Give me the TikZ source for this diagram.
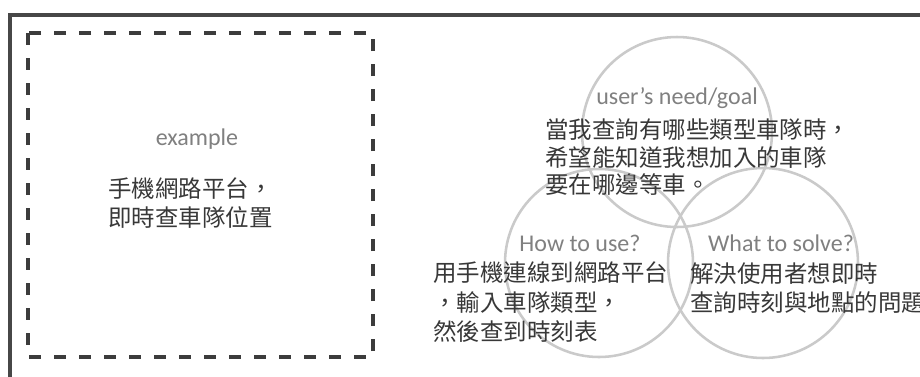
\documentclass[tikz,border=0pt]{standalone}
\usepackage{fontspec}
\setmainfont{Carlito}
\newfontfamily\cjk{Noto Sans CJK TC}
\definecolor{framegray}{HTML}{474747}
\definecolor{dashgray}{HTML}{3C3C3C}
\definecolor{circgray}{HTML}{CACACA}
\definecolor{lblgray}{HTML}{808080}
\definecolor{txtgray}{HTML}{383838}
\begin{document}
\begin{tikzpicture}[x=0.75pt,y=-0.75pt,
  lbl/.style={inner sep=0pt, text=lblgray, font=\fontsize{18}{22}\selectfont},
  cjkblock/.style={inner sep=0pt, align=left, text=txtgray, anchor=west},
  venn/.style={draw=circgray, line width=1.9pt},
  dashbox/.style={draw=dashgray, line width=2.3pt, dash pattern=on 9pt off 9.75pt}]
\useasboundingbox (0,0) rectangle (920,376);
\fill[white] (0,0) rectangle (920,376);
% outer frame (right and bottom edges lie outside the picture)
\draw[framegray, line width=3pt] (9.7,420) -- (9.7,14.7) -- (960,14.7);
% dashed example box
\draw[dashbox] (28,33) rectangle (373,357);
% Venn circles
\draw[venn] (677,132) circle[radius=95];
\draw[venn] (599,263) circle[radius=94];
\draw[venn] (763,263) circle[radius=95];
% labels
\node[lbl] (exlbl) at (197,139) {example};
\node[cjkblock, font=\cjk\fontsize{17.6}{21.75}\selectfont] (extxt) at (108,203.5) {手機網路平台，\\即時查車隊位置};
\node[lbl] (needlbl) at (677,98) {user’s need/goal};
\node[cjkblock, font=\cjk\fontsize{17.6}{20.6}\selectfont] (needtxt) at (545,157.5) {當我查詢有哪些類型車隊時，\\希望能知道我想加入的車隊\\要在哪邊等車。};
\node[lbl] (uselbl) at (580,243) {How to use?};
\node[cjkblock, font=\cjk\fontsize{17.6}{22.1}\selectfont] (usetxt) at (433,302.5) {用手機連線到網路平台\\，輸入車隊類型，\\然後查到時刻表};
\node[lbl] (solvelbl) at (781,243) {What to solve?};
\node[cjkblock, font=\cjk\fontsize{17.6}{22.1}\selectfont] (solvetxt) at (690,288) {解決使用者想即時\\查詢時刻與地點的問題};
\end{tikzpicture}
\end{document}
